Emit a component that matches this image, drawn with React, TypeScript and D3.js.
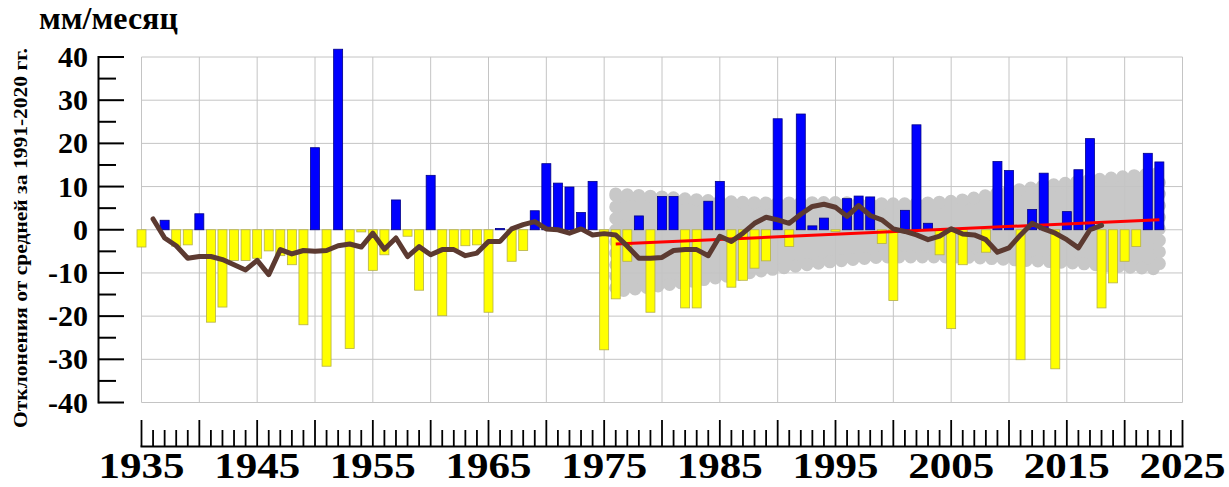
import { useEffect, useRef } from "react";
import * as d3 from "d3";

// Precipitation anomalies, mm/month, relative to 1991-2020 mean
const FIRST_YEAR = 1935;
const anomalies: (number | null)[] = [
  -4.0, null, 2.2, -3.8, -3.5, 3.7, -21.4, -17.9, -7.1, -7.1, // 1935-1944
  -6.6, -4.9, -6.0, -8.1, -22.0, 19.0, -31.6, 41.8, -27.5, -0.5, // 1945-1954
  -9.4, -5.8, 6.9, -1.5, -14.0, 12.6, -19.9, -4.5, -3.7, -3.5, // 1955-1964
  -19.1, 0.3, -7.3, -4.8, 4.4, 15.3, 10.8, 9.9, 4.0, 11.2, // 1965-1974
  -27.8, -16.0, -7.3, 3.2, -19.1, 7.7, 7.7, -18.1, -18.1, 6.6, // 1975-1984
  11.2, -13.3, -11.7, -8.9, -7.2, 25.7, -3.9, 26.8, 0.9, 2.7, // 1985-1994
  -0.4, 7.2, 7.8, 7.6, -3.2, -16.4, 4.5, 24.3, 1.5, -5.8, // 1995-2004
  -22.9, -8.1, null, -5.2, 15.8, 13.7, -30.1, 4.7, 13.1, -32.2, // 2005-2014
  4.2, 13.9, 21.1, -18.1, -12.3, -7.3, -3.9, 17.7, 15.7, // 2015-2023
];

// smoothed curve
const SMOOTH_FIRST_YEAR = 1936;
const smoothed = [
  2.5, -1.9, -3.7, -6.6, -6.2, -6.2, -6.9, -8.1, -9.3, // 1936-1944
  -7.1, -10.4, -4.6, -5.6, -4.8, -5.0, -4.8, -3.7, -3.3, -4.0, // 1945-1954
  -0.8, -4.5, -1.9, -6.2, -3.9, -5.8, -4.6, -4.6, -6.0, -5.4, // 1955-1964
  -2.7, -2.7, 0.2, 1.2, 1.9, 0.2, 0.0, -0.8, 0.2, -1.2, // 1965-1974
  -0.9, -1.2, -3.8, -6.6, -6.6, -6.4, -4.8, -4.6, -4.6, -6.0, // 1975-1984
  -1.5, -2.7, -0.8, 1.5, 2.9, 2.3, 1.5, 3.6, 5.4, 5.9, // 1985-1994
  5.2, 3.1, 5.6, 3.3, 2.3, 0.2, -0.4, -1.2, -2.3, -1.5, // 1995-2004
  0.2, -1.0, -1.2, -2.3, -5.2, -4.2, -1.2, 1.5, 0.2, -0.8, // 2005-2014
  -2.3, -4.2, 0.0, 1.0, // 2015-2018
];

const trendYears = [1976, 2023];
const trendValues = [-3.3, 2.3];

const bandYears = [1976, 1980, 1985, 1990, 1995, 2000, 2005, 2010, 2015, 2020, 2023];
const bandUpper = [8.3, 7.6, 6.6, 6.2, 6.3, 6.0, 6.6, 8.9, 10.8, 12.3, 13.1];
const bandLower = [-14.3, -12.9, -11.0, -9.0, -7.3, -6.3, -6.3, -6.9, -7.6, -8.6, -9.1];

const yTicks = [40, 30, 20, 10, 0, -10, -20, -30, -40];
const xLabels = [1935, 1945, 1955, 1965, 1975, 1985, 1995, 2005, 2015, 2025];

const FONT = "'Liberation Serif', 'Times New Roman', serif";

export default function App() {
  const svgRef = useRef<SVGSVGElement>(null);

  useEffect(() => {
    if (!svgRef.current) return;
    const svg = d3.select(svgRef.current);
    svg.selectAll("*").remove();

    const x = d3.scaleLinear().domain([1935, 2025]).range([141.5, 1182.5]);
    const y = d3.scaleLinear().domain([-40, 40]).range([402.5, 57]);
    const yearStep = x(1936) - x(1935);

    // Confidence band (scalloped)
    const bandData = bandYears.map((yr, i) => ({ yr, hi: bandUpper[i], lo: bandLower[i] }));
    const area = d3
      .area<{ yr: number; hi: number; lo: number }>()
      .x((d) => x(d.yr))
      .y0((d) => y(d.lo))
      .y1((d) => y(d.hi))
      .curve(d3.curveMonotoneX);
    svg.append("path").datum(bandData).attr("fill", "#c8c8c8").attr("d", area);
    svg
      .append("path")
      .datum(bandData)
      .attr("fill", "none")
      .attr("stroke", "#c8c8c8")
      .attr("stroke-width", 13)
      .attr("stroke-linecap", "round")
      .attr("stroke-linejoin", "round")
      .attr("stroke-dasharray", `0 ${yearStep.toFixed(2)}`)
      .attr("d", area);

    // Grid
    const grid = svg.append("g").attr("stroke", "#c4c4c4").attr("stroke-width", 1);
    d3.range(1935, 2026, 5).forEach((yr) => {
      grid
        .append("line")
        .attr("x1", x(yr))
        .attr("x2", x(yr))
        .attr("y1", y(40))
        .attr("y2", y(-40));
    });
    yTicks.forEach((v) => {
      grid
        .append("line")
        .attr("x1", x(1935))
        .attr("x2", x(2025))
        .attr("y1", y(v))
        .attr("y2", y(v));
    });

    // Bars
    const bars = anomalies
      .map((v, i) => ({ yr: FIRST_YEAR + i, v }))
      .filter((d) => d.v !== null) as { yr: number; v: number }[];
    const barW = 9;
    svg
      .append("g")
      .selectAll("rect")
      .data(bars)
      .enter()
      .append("rect")
      .attr("x", (d) => x(d.yr) - barW / 2)
      .attr("width", barW)
      .attr("y", (d) => y(Math.max(d.v, 0)))
      .attr("height", (d) => Math.abs(y(d.v) - y(0)))
      .attr("fill", (d) => (d.v >= 0 ? "#0000ff" : "#ffff00"))
      .attr("stroke", (d) => (d.v >= 0 ? "#00008a" : "#b5b04a"))
      .attr("stroke-width", 0.8);

    // Trend line
    const trendData = trendYears.map((yr, i) => ({ yr, v: trendValues[i] }));
    const line = d3
      .line<{ yr: number; v: number }>()
      .x((d) => x(d.yr))
      .y((d) => y(d.v));
    svg
      .append("path")
      .datum(trendData)
      .attr("fill", "none")
      .attr("stroke", "#ff0000")
      .attr("stroke-width", 3)
      .attr("d", line);

    // Smoothed curve
    const smoothData = smoothed.map((v, i) => ({ yr: SMOOTH_FIRST_YEAR + i, v }));
    svg
      .append("path")
      .datum(smoothData)
      .attr("fill", "none")
      .attr("stroke", "#5c3a31")
      .attr("stroke-width", 5)
      .attr("stroke-linejoin", "round")
      .attr("stroke-linecap", "round")
      .attr("d", line);

    // Y axis
    const axisX = 98.5;
    const yAxis = svg.append("g").attr("stroke", "#000").attr("stroke-width", 2);
    yAxis
      .append("line")
      .attr("x1", axisX)
      .attr("x2", axisX)
      .attr("y1", y(40) - 1)
      .attr("y2", y(-40) + 1);
    d3.range(-40, 41, 5).forEach((v) => {
      yAxis
        .append("line")
        .attr("x1", axisX)
        .attr("x2", v % 10 === 0 ? 124 : 116)
        .attr("y1", y(v))
        .attr("y2", y(v));
    });
    svg
      .append("g")
      .selectAll("text")
      .data(yTicks)
      .enter()
      .append("text")
      .attr("x", 88)
      .attr("y", (d) => y(d) + 10)
      .attr("text-anchor", "end")
      .attr("font-family", FONT)
      .attr("font-weight", "bold")
      .attr("font-size", 30)
      .text((d) => String(d));

    // X axis
    const axisY = 446.5;
    const xAxis = svg.append("g").attr("stroke", "#000").attr("stroke-width", 1.8);
    xAxis
      .append("line")
      .attr("x1", x(1935) - 1)
      .attr("x2", x(2025) + 1)
      .attr("y1", axisY)
      .attr("y2", axisY);
    d3.range(1935, 2026, 1).forEach((yr) => {
      xAxis
        .append("line")
        .attr("x1", x(yr))
        .attr("x2", x(yr))
        .attr("y1", axisY)
        .attr("y2", (yr - 1935) % 5 === 0 ? 420 : 430);
    });
    svg
      .append("g")
      .selectAll("text")
      .data(xLabels)
      .enter()
      .append("text")
      .attr("x", (d) => x(d))
      .attr("y", 478)
      .attr("text-anchor", "middle")
      .attr("font-family", FONT)
      .attr("font-weight", "bold")
      .attr("font-size", 36)
      .attr("textLength", 86)
      .attr("lengthAdjust", "spacingAndGlyphs")
      .text((d) => String(d));

    // Titles
    svg
      .append("text")
      .attr("x", 39)
      .attr("y", 29)
      .attr("font-family", FONT)
      .attr("font-weight", "bold")
      .attr("font-size", 32)
      .text("мм/месяц");

    svg
      .append("text")
      .attr("transform", "translate(27,238) rotate(-90)")
      .attr("text-anchor", "middle")
      .attr("font-family", FONT)
      .attr("font-weight", "bold")
      .attr("font-size", 19)
      .attr("textLength", 380)
      .attr("lengthAdjust", "spacingAndGlyphs")
      .text("Отклонения от средней за 1991-2020 гг.");
  }, []);

  return (
    <svg
      ref={svgRef}
      width={1229}
      height={487}
      style={{ position: "absolute", left: 0, top: 0, background: "#fff" }}
    />
  );
}
